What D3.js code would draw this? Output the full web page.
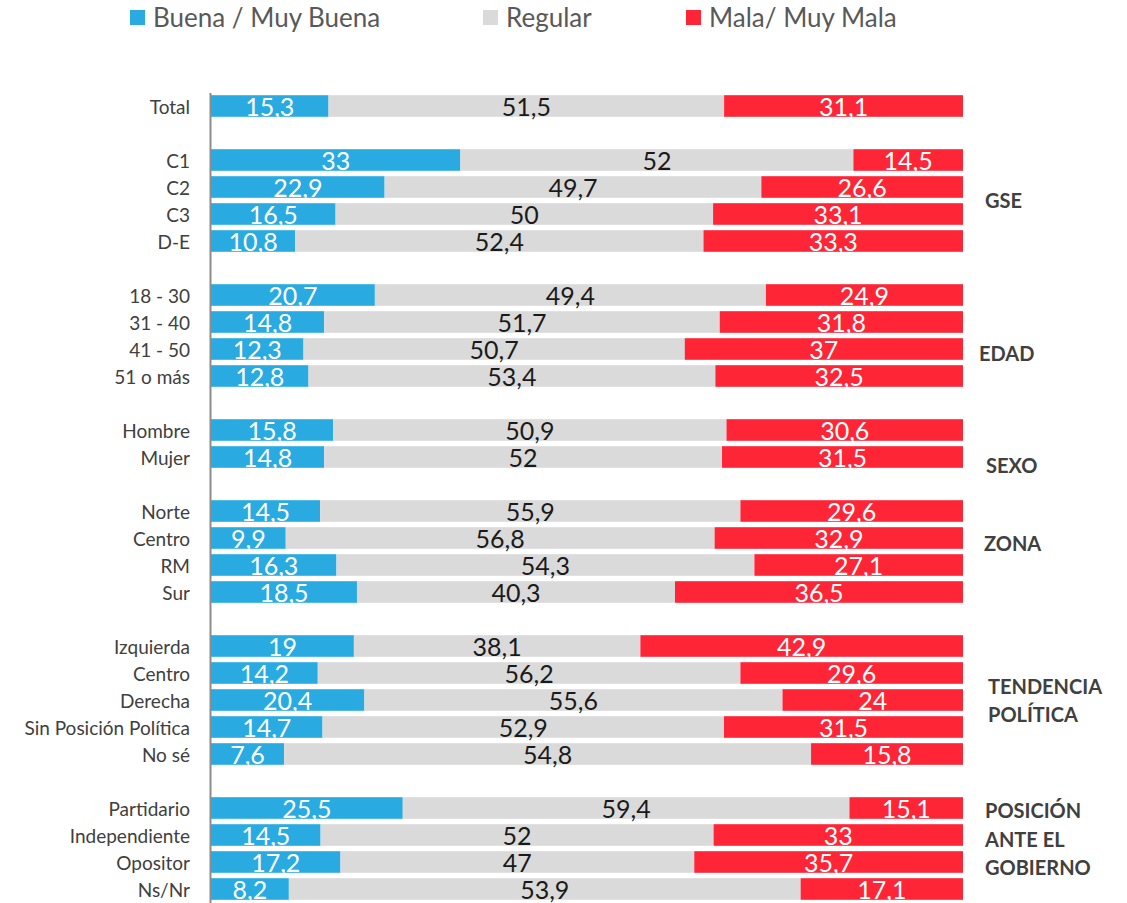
<!doctype html>
<html>
  <head>
    <meta charset="utf-8">
    <title>Evaluación</title>
    <style>
      body { margin: 0; background: #fff; }
      svg { display: block; font-family: Lato, "Open Sans", sans-serif; }
      .cat { font-family: Lato, "Open Sans", sans-serif; }
      .cat text { fill: #404040; font-size: 19px; }
      .cat .domain { stroke: #8c8c8c; stroke-width: 2px; }
      .grp { fill: #404040; font-size: 20px; font-weight: bold; }
      .leg { fill: #595959; font-size: 26px; }
      .val { font-size: 25px; text-anchor: middle; }
    </style>
  </head>
  <body>

  <script src="https://d3js.org/d3.v7.min.js" charset="utf-8"></script>

    <script>

    var categories = ["Total", "C1", "C2", "C3", "D-E", "18 - 30", "31 - 40", "41 - 50", "51 o más",
      "Hombre", "Mujer", "Norte", "Centro", "RM", "Sur", "Izquierda", "Centro", "Derecha",
      "Sin Posición Política", "No sé", "Partidario", "Independiente", "Opositor", "Ns/Nr"];
    var groupOf = ["Total", "GSE", "GSE", "GSE", "GSE", "EDAD", "EDAD", "EDAD", "EDAD",
      "SEXO", "SEXO", "ZONA", "ZONA", "ZONA", "ZONA", "TEND", "TEND", "TEND", "TEND", "TEND",
      "POS", "POS", "POS", "POS"];
    var buena = [15.3, 33, 22.9, 16.5, 10.8, 20.7, 14.8, 12.3, 12.8, 15.8, 14.8, 14.5, 9.9, 16.3, 18.5,
      19, 14.2, 20.4, 14.7, 7.6, 25.5, 14.5, 17.2, 8.2];
    var regular = [51.5, 52, 49.7, 50, 52.4, 49.4, 51.7, 50.7, 53.4, 50.9, 52, 55.9, 56.8, 54.3, 40.3,
      38.1, 56.2, 55.6, 52.9, 54.8, 59.4, 52, 47, 53.9];
    var mala = [31.1, 14.5, 26.6, 33.1, 33.3, 24.9, 31.8, 37, 32.5, 30.6, 31.5, 29.6, 32.9, 27.1, 36.5,
      42.9, 29.6, 24, 31.5, 15.8, 15.1, 33, 35.7, 17.1];
    var seriesNames = ["Buena / Muy Buena", "Regular", "Mala/ Muy Mala"];
    var groupNames = ["GSE", "EDAD", "SEXO", "ZONA", "TEND", "POS"];
    var groupLabels = [["GSE"], ["EDAD"], ["SEXO"], ["ZONA"], ["TENDENCIA", "POLÍTICA"], ["POSICIÓN", "ANTE EL", "GOBIERNO"]];

    var colors = ["#29abe2", "#dadada", "#fe2537"];
    var textColors = ["#fff", "#1a1a1a", "#fff"];
    // hand-placed label nudges (x, dy) like the original text boxes
    var grpX = [985, 979, 986, 984, 988, 985];
    var grpDy = [0, 18, 22, -8, 1, -9];

    var width = 1127, height = 903;

    // slots: one per row, with an empty slot between groups
    var slots = [], rowSlot = [];
    categories.forEach(function(c, i) {
      if (i > 0 && groupOf[i] !== groupOf[i - 1]) slots.push("gap" + i);
      rowSlot.push("r" + i);
      slots.push("r" + i);
    });

    var y = d3.scaleBand()
      .domain(slots)
      .range([92.5, 902.5])
      .paddingInner(0.2)
      .paddingOuter(0.1);

    var x = d3.scaleLinear().domain([0, 1]).range([211, 963]);

    var svg = d3.select("body").append("svg")
      .attr("width", width)
      .attr("height", height);

    // stacked, each row normalised to its own sum
    var rows = categories.map(function(c, i) {
      var vals = [buena[i], regular[i], mala[i]];
      var sum = d3.sum(vals), acc = 0;
      return vals.map(function(v, k) {
        var seg = { row: i, k: k, v: v, x0: acc / sum, x1: (acc + v) / sum };
        acc += v;
        return seg;
      });
    });

    var rowG = svg.selectAll("g.row")
      .data(rows)
      .enter().append("g")
      .attr("class", "row")
      .attr("transform", function(d, i) { return "translate(0," + y(rowSlot[i]) + ")"; });

    rowG.selectAll("rect")
      .data(function(d) { return d; })
      .enter().append("rect")
      .attr("x", function(d) { return x(d.x0); })
      .attr("width", function(d) { return x(d.x1) - x(d.x0); })
      .attr("height", y.bandwidth())
      .attr("fill", function(d) { return colors[d.k]; });

    rowG.selectAll("text")
      .data(function(d) { return d; })
      .enter().append("text")
      .attr("class", "val")
      .attr("x", function(d) { return (x(d.x0) + x(d.x1)) / 2; })
      .attr("y", y.bandwidth() - 0.5)
      .attr("fill", function(d) { return textColors[d.k]; })
      .text(function(d) { return String(d.v).replace(".", ","); });

    // category axis
    svg.append("g")
      .attr("class", "cat")
      .attr("transform", "translate(210,0)")
      .call(d3.axisLeft(y)
        .tickValues(rowSlot)
        .tickSize(0)
        .tickSizeOuter(0)
        .tickPadding(20)
        .tickFormat(function(s) { return categories[+s.slice(1)]; }))
      .attr("font-family", null)
      .attr("font-size", null)
      .selectAll("text")
      .attr("dy", "0.4em");

    // group labels on the right
    groupNames.forEach(function(g, gi) {
      var idx = d3.range(categories.length).filter(function(i) { return groupOf[i] === g; });
      var mid = (y(rowSlot[idx[0]]) + y(rowSlot[idx[idx.length - 1]]) + y.bandwidth()) / 2 + grpDy[gi];
      var lines = groupLabels[gi];
      var t = svg.append("text").attr("class", "grp");
      lines.forEach(function(l, li) {
        t.append("tspan")
          .attr("x", grpX[gi])
          .attr("y", mid + (li - (lines.length - 1) / 2) * 28.5)
          .attr("dy", "0.36em")
          .text(l);
      });
    });

    // legend
    var legX = [130, 483, 686];
    var leg = svg.selectAll("g.leg")
      .data(seriesNames)
      .enter().append("g")
      .attr("transform", function(d, i) { return "translate(" + legX[i] + ",10)"; });
    leg.append("rect")
      .attr("width", 15).attr("height", 15)
      .attr("fill", function(d, i) { return colors[i]; });
    leg.append("text")
      .attr("class", "leg")
      .attr("x", 23).attr("y", 17)
      .text(function(d) { return d; });

    </script>

  </body>
</html>
